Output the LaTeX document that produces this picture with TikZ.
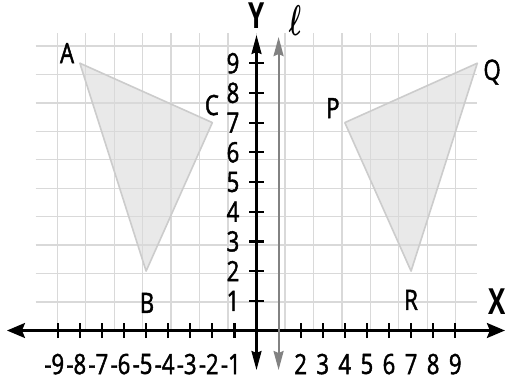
\documentclass[tikz,border=0pt]{standalone}
\usepackage{fontspec}
\setmainfont[FakeStretch=0.79,FakeBold=1.6]{Open Sans}
\newfontfamily\axfont[FakeStretch=0.72]{Open Sans Bold}
\usetikzlibrary{arrows.meta}
\newcommand{\elllabel}{\mbox{\boldmath$\ell$}}
\begin{document}
\begin{tikzpicture}[x=22.08pt,y=29.7pt,
  gridline/.style={draw=gray!30,line width=1.4pt},
  shapefill/.style={fill=gray!17},
  shapeedge/.style={draw=gray!40,line width=1.6pt,line join=round},
  axisline/.style={line width=2.4pt,black},
  tickmark/.style={line width=2.2pt,black},
  lline/.style={line width=2pt,draw=gray!60!black!70},
  numlbl/.style={inner sep=0pt,font=\fontsize{28}{28}\selectfont},
  ptlbl/.style={inner sep=0pt,font=\fontsize{28}{28}\selectfont},
  axlbl/.style={inner sep=0pt,font=\fontsize{36}{36}\axfont}]
\useasboundingbox[fill=white] (-256.5pt,-50.5pt) rectangle (248.5pt,330.5pt);
% vertices
\coordinate (A) at (-8,9);
\coordinate (B) at (-5,2);
\coordinate (C) at (-2,7);
\coordinate (P) at (4,7);
\coordinate (Q) at (10,9);
\coordinate (R) at (7,2);
% fills
\fill[shapefill] (A) -- (B) -- (C) -- cycle;
\fill[shapefill] (P) -- (Q) -- (R) -- cycle;
% grid
\draw[gridline] (-10,0) grid (10,10);
% edges
\draw[shapeedge] (A) -- (B) -- (C) -- cycle;
\draw[shapeedge] (P) -- (Q) -- (R) -- cycle;
% axes
\coordinate (xl) at (-11.3,0);
\coordinate (xr) at (11.25,0);
\coordinate (yb) at (0,-1.33);
\coordinate (yt) at (0,9.95);
\coordinate (lb) at (1,-1.33);
\coordinate (lt) at (1,9.88);
\foreach \i in {-9,...,-1,2,3,...,9}
  \draw[tickmark] (\i,-0.26) -- (\i,0.26);
\foreach \i in {1,...,9}
  \draw[tickmark] (-0.32,\i) -- (0.32,\i);
\draw[axisline,{Stealth[length=18pt,width=15pt,inset=3pt]}-{Stealth[length=18pt,width=15pt,inset=3pt]}] (xl) -- (xr);
\draw[axisline,{Stealth[length=19pt,width=10pt,inset=2pt]}-{Stealth[length=19pt,width=10pt,inset=2pt]}] (yb) -- (yt);
\draw[lline,{Stealth[length=19pt,width=10pt,inset=2pt]}-{Stealth[length=19pt,width=10pt,inset=2pt]}] (lb) -- (lt);
% tick labels
\foreach \i in {1,...,9}
  \node[numlbl] (xn\i) at (-\i,-1.13) {\llap{-}\i};
\foreach \i in {2,...,9}
  \node[numlbl] (xp\i) at (\i,-1.13) {\i};
\foreach \i in {1,...,9}
  \node[numlbl,anchor=east] (yl\i) at (-0.77,\i) {\i};
% point labels
\node[ptlbl] (lA) at (-8.58,9.34) {A};
\node[ptlbl] (lB) at (-4.96,0.93) {B};
\node[ptlbl] (lC) at (-2.02,7.59) {C};
\node[ptlbl] (lP) at (3.46,7.49) {P};
\node[ptlbl] (lQ) at (10.67,8.70) {Q};
\node[ptlbl] (lR) at (7.0,1.03) {R};
% axis labels
\node[axlbl] (lX) at (10.89,0.96) {X};
\node[axlbl] (lY) at (0,10.59) {Y};
\node[inner sep=0pt] (lell) at (1.74,10.42) {\scalebox{2.6}[4.3]{\elllabel}};
\end{tikzpicture}
\end{document}
